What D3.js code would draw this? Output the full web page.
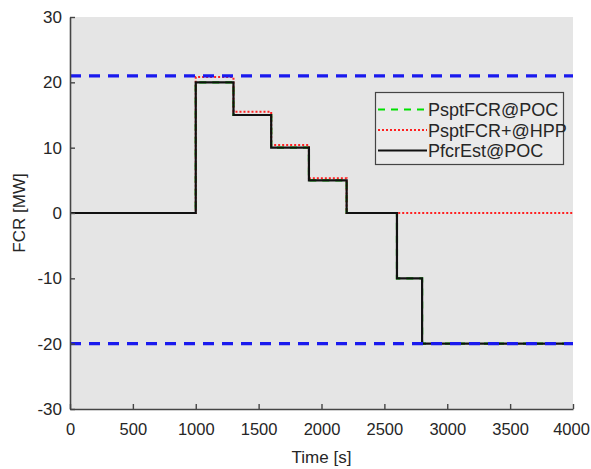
<!DOCTYPE html>
<html><head><meta charset="utf-8">
<script src="https://cdn.jsdelivr.net/npm/d3@7"></script>
<style>body{margin:0;background:#fff}svg{display:block}text{font-family:"Liberation Sans",Arial,sans-serif}</style>
</head><body>
<script>
const timeS = [0,1000,1300,1600,1900,2200,2600,2800,4000];
const psptFcrPoc = [0,20,15,10,5,0,-10,-20,-20];
const psptFcrHpp = [0,20.8,15.5,10.4,5.3,0,0,0,0];
const pfcrEstPoc = [0,20,15,10,5,0,-10,-20,-20];
const limitValues = [21,-20];
const xTicks = [0,500,1000,1500,2000,2500,3000,3500,4000];
const yTicks = [-30,-20,-10,0,10,20,30];
const seriesNames = ["PsptFCR@POC","PsptFCR+@HPP","PfcrEst@POC"];

const W=591,H=469;
const m={l:70,r:18,t:17,b:60};
const svg=d3.select("body").append("svg").attr("width",W).attr("height",H);
const x=d3.scaleLinear().domain([0,4000]).range([m.l,W-m.r]);
const y=d3.scaleLinear().domain([-30,30]).range([H-m.b,m.t]);

svg.append("rect").attr("x",x(0)).attr("y",y(30)).attr("width",x(4000)-x(0)).attr("height",y(-30)-y(30)).attr("fill","#e5e5e5");

const line=d3.line().x(d=>x(d[0])).y(d=>y(d[1])).curve(d3.curveStepAfter);
const mk=v=>timeS.map((t,i)=>[t,v[i]]);
const g=svg.append("g");
g.append("path").attr("d",line(mk(psptFcrPoc))).attr("fill","none").attr("stroke","#00e000").attr("stroke-width",2.2).attr("stroke-dasharray","7,6");
g.append("path").attr("d",line(mk(psptFcrHpp))).attr("fill","none").attr("stroke","#ff2020").attr("stroke-width",2).attr("stroke-dasharray","2,2");
g.append("path").attr("d",line(mk(pfcrEstPoc))).attr("fill","none").attr("stroke","#111").attr("stroke-width",2.2);
limitValues.forEach(v=>{
  g.append("line").attr("x1",x(0)).attr("x2",x(4000)).attr("y1",y(v)).attr("y2",y(v))
   .attr("stroke","#1a1aee").attr("stroke-width",3.2).attr("stroke-dasharray","11,8");
});

const axCol="#454545";
const fmt=d=>String(d);
const xa=svg.append("g").attr("transform",`translate(0,${y(-30)})`)
  .call(d3.axisBottom(x).tickValues(xTicks).tickFormat(fmt).tickSizeInner(-5).tickSizeOuter(0).tickPadding(14));
const ya=svg.append("g").attr("transform",`translate(${x(0)},0)`)
  .call(d3.axisLeft(y).tickValues(yTicks).tickFormat(fmt).tickSizeInner(-5).tickSizeOuter(0).tickPadding(8));
[xa,ya].forEach(a=>{
  a.select(".domain").attr("stroke",axCol).attr("stroke-width",1.6);
  a.selectAll(".tick line").attr("stroke",axCol).attr("stroke-width",1.4);
  a.selectAll(".tick text").attr("fill","#262626").style("font-size","17px");
});
xa.selectAll(".tick text").style("font-size","16.5px");
xa.selectAll(".tick text").filter(d=>d===4000).attr("dx",-2);

svg.append("text").attr("x",(x(0)+x(4000))/2).attr("y",463).attr("text-anchor","middle").attr("fill","#262626").style("font-size","17px").text("Time [s]");
svg.append("text").attr("transform",`translate(25,${y(0)}) rotate(-90)`).attr("text-anchor","middle").attr("fill","#262626").style("font-size","17px").text("FCR [MW]");

// legend
const lg=svg.append("g");
lg.append("rect").attr("x",375.5).attr("y",92.5).attr("width",188).attr("height",72).attr("fill","#eaeaea").attr("stroke","#444").attr("stroke-width",1.2);
const styles=[{c:"#00e000",d:"7,6",w:2.2},{c:"#ff2020",d:"2,2",w:2},{c:"#111",d:null,w:2.2}];
seriesNames.forEach((n,i)=>{
  const yy=109.5+i*20.5;
  const l=lg.append("line").attr("x1",378).attr("x2",427).attr("y1",yy).attr("y2",yy).attr("stroke",styles[i].c).attr("stroke-width",styles[i].w);
  if(styles[i].d) l.attr("stroke-dasharray",styles[i].d);
  lg.append("text").attr("x",428).attr("y",yy+6.5).attr("fill","#262626").style("font-size","18px").text(n);
});
</script>
</body></html>
